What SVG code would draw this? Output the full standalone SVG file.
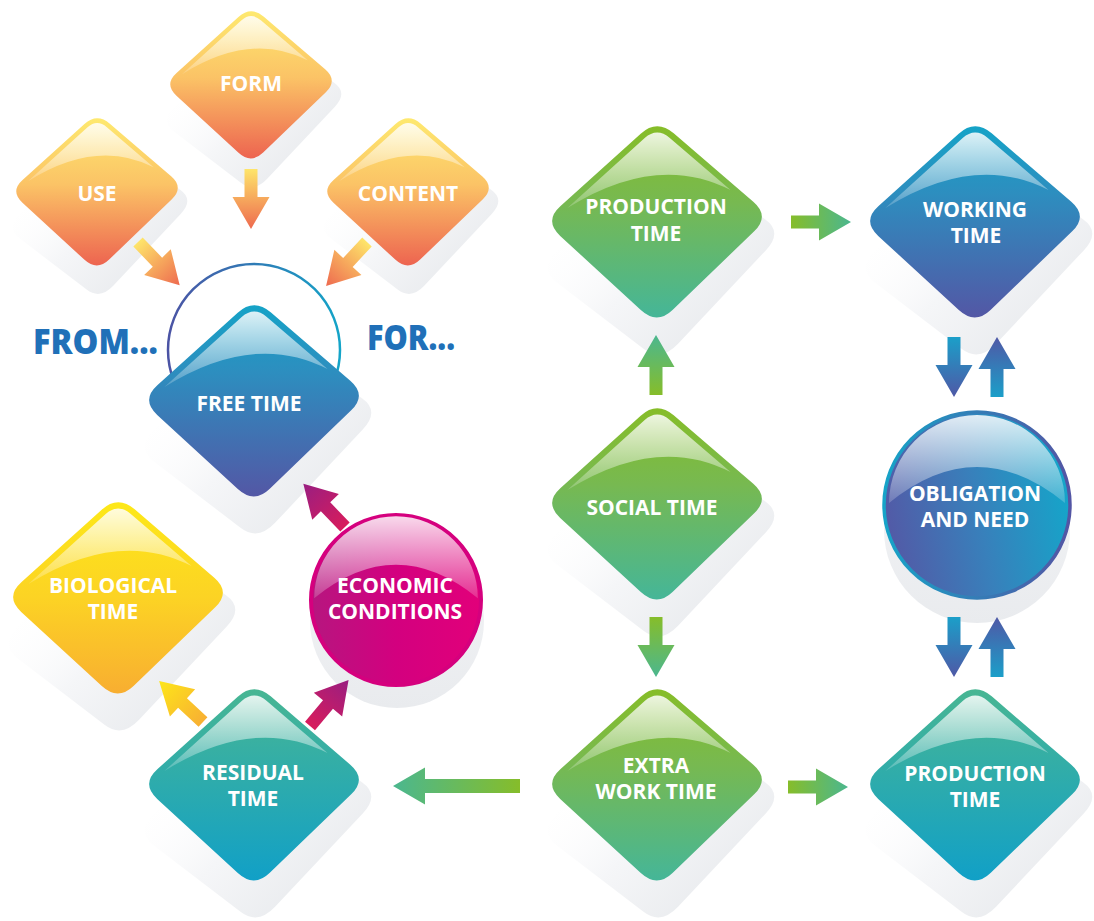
<svg xmlns="http://www.w3.org/2000/svg" xmlns:xlink="http://www.w3.org/1999/xlink" width="1094" height="921" viewBox="0 0 1094 921">
  <style>
    .lbl { font-family: "Open Sans", "Liberation Sans", sans-serif; font-weight: 700; font-size: 21px; fill: #ffffff; text-anchor: middle; }
    .big { font-family: "Open Sans", "Liberation Sans", sans-serif; font-weight: 800; font-size: 36px; fill: #2070b8; }
    .gloss { fill: url(#gloss); }
    .shade { fill: url(#shade); }
    .cshade { fill: url(#cshade); }
  </style>
  <defs>
    <!-- rounded rhombus, centred on 0,0 -->
    <path id="dia" d="M 16.7,-88.7 L 96.3,-20.3 Q 113,-6 97.2,9.3 L 15.8,87.7 Q 0,103 -16.2,88.1 L -96.8,13.9 Q -113,-1 -96.7,-15.7 L -16.3,-88.3 Q 0,-103 16.7,-88.7 Z"/>
    <!-- glossy cap on the upper part of the rhombus -->
    <path id="diaGloss" d="M -89.6,-14 Q 0,-70 73.5,-32 L 12.8,-84.1 Q 0,-95 -12.3,-84 Z"/>
    <!-- glossy cap for the round nodes (r = 88 inner) -->
    <path id="discGloss" d="M -88,-2 A 88 88 0 0 1 88,-2 Q 0,-74 -88,-2 Z"/>
    <!-- block arrows pointing along +x, tail at 0,0 -->
    <path id="arr" d="M0,-6.5 H28 V-18.5 L60,0 L28,18.5 V6.5 H0 Z"/>
    <path id="arrLong" d="M0,-7 H95 V-18.5 L127,0 L95,18.5 V7 H0 Z"/>

    <linearGradient id="gloss" x1="0" y1="0" x2="0" y2="1">
      <stop offset="0" stop-color="#ffffff" stop-opacity="0.85"/>
      <stop offset="1" stop-color="#ffffff" stop-opacity="0.18"/>
    </linearGradient>
    <linearGradient id="shade" x1="0.15" y1="0.2" x2="0.8" y2="0.9">
      <stop offset="0" stop-color="#ffffff" stop-opacity="0"/>
      <stop offset="0.5" stop-color="#f5f6f8"/>
      <stop offset="1" stop-color="#e9ebee"/>
    </linearGradient>
    <linearGradient id="cshade" x1="0" y1="0" x2="0" y2="1">
      <stop offset="0" stop-color="#f4f5f7"/>
      <stop offset="1" stop-color="#e9ebee"/>
    </linearGradient>

    <!-- node fills -->
    <linearGradient id="gOrange" x1="0" y1="0" x2="0" y2="1">
      <stop offset="0" stop-color="#fee96f"/>
      <stop offset="0.45" stop-color="#fbc366"/>
      <stop offset="1" stop-color="#ed6450"/>
    </linearGradient>
    <linearGradient id="gYellow" x1="0" y1="0" x2="0" y2="1">
      <stop offset="0" stop-color="#fde818"/>
      <stop offset="0.5" stop-color="#fcd324"/>
      <stop offset="1" stop-color="#f8ae31"/>
    </linearGradient>
    <linearGradient id="gTeal" x1="0" y1="0" x2="0" y2="1">
      <stop offset="0" stop-color="#48b693"/>
      <stop offset="1" stop-color="#11a0c7"/>
    </linearGradient>
    <linearGradient id="gBlue" x1="0" y1="0" x2="0" y2="1">
      <stop offset="0" stop-color="#15a3c7"/>
      <stop offset="0.35" stop-color="#2d8ebf"/>
      <stop offset="1" stop-color="#5357a5"/>
    </linearGradient>
    <linearGradient id="gGreen" x1="0" y1="0" x2="0" y2="1">
      <stop offset="0" stop-color="#86bd28"/>
      <stop offset="0.4" stop-color="#77b951"/>
      <stop offset="1" stop-color="#45b698"/>
    </linearGradient>
    <linearGradient id="gMagenta" x1="0" y1="0.5" x2="1" y2="0.5">
      <stop offset="0" stop-color="#b6167f"/>
      <stop offset="0.5" stop-color="#d3007f"/>
      <stop offset="1" stop-color="#e2007a"/>
    </linearGradient>
    <linearGradient id="gIndigo" x1="0" y1="0.6" x2="1" y2="0.4">
      <stop offset="0" stop-color="#5359a6"/>
      <stop offset="0.5" stop-color="#3880bb"/>
      <stop offset="1" stop-color="#14a6ca"/>
    </linearGradient>
    <linearGradient id="gIndigoRing" x1="0" y1="0.5" x2="1" y2="0.5">
      <stop offset="0" stop-color="#16a4c8"/>
      <stop offset="1" stop-color="#5355a4"/>
    </linearGradient>
    <linearGradient id="gRing" gradientUnits="userSpaceOnUse" x1="168" y1="0" x2="340" y2="0">
      <stop offset="0" stop-color="#4b53a4"/>
      <stop offset="1" stop-color="#14a4c8"/>
    </linearGradient>

    <!-- arrow fills, tail to tip -->
    <linearGradient id="aOrange" x1="0" y1="0" x2="1" y2="0">
      <stop offset="0" stop-color="#fee56a"/>
      <stop offset="1" stop-color="#ee6a4f"/>
    </linearGradient>
    <linearGradient id="aGreen" x1="0" y1="0" x2="1" y2="0">
      <stop offset="0" stop-color="#86bd2a"/>
      <stop offset="1" stop-color="#4bb78f"/>
    </linearGradient>
    <linearGradient id="aBlue" x1="0" y1="0" x2="1" y2="0">
      <stop offset="0" stop-color="#1b9fc9"/>
      <stop offset="1" stop-color="#4f58a6"/>
    </linearGradient>
    <linearGradient id="aYellow" x1="0" y1="0" x2="1" y2="0">
      <stop offset="0" stop-color="#f8b033"/>
      <stop offset="1" stop-color="#fde619"/>
    </linearGradient>
    <linearGradient id="aMagenta" x1="0" y1="0" x2="1" y2="0">
      <stop offset="0" stop-color="#d81c5c"/>
      <stop offset="1" stop-color="#991e81"/>
    </linearGradient>
  </defs>

  <rect width="1094" height="921" fill="#ffffff"/>

  <!-- soft drop shadows under every shape -->
  <g id="shadows">
    <use xlink:href="#dia" class="shade" transform="translate(251,85) scale(0.77) matrix(1.08,-0.14,0,1.05,4,32)"/>
    <use xlink:href="#dia" class="shade" transform="translate(97,192) scale(0.77) matrix(1.08,-0.14,0,1.05,4,32)"/>
    <use xlink:href="#dia" class="shade" transform="translate(408,192) scale(0.77) matrix(1.08,-0.14,0,1.05,4,32)"/>
    <use xlink:href="#dia" class="shade" transform="translate(254,401) matrix(1.08,-0.14,0,1.05,4,32)"/>
    <use xlink:href="#dia" class="shade" transform="translate(118,598) matrix(1.08,-0.14,0,1.05,4,32)"/>
    <use xlink:href="#dia" class="shade" transform="translate(254,785) matrix(1.08,-0.14,0,1.05,4,32)"/>
    <use xlink:href="#dia" class="shade" transform="translate(657,222) matrix(1.08,-0.14,0,1.05,4,32)"/>
    <use xlink:href="#dia" class="shade" transform="translate(975,222) matrix(1.08,-0.14,0,1.05,4,32)"/>
    <use xlink:href="#dia" class="shade" transform="translate(657,504) matrix(1.08,-0.14,0,1.05,4,32)"/>
    <use xlink:href="#dia" class="shade" transform="translate(657,785) matrix(1.08,-0.14,0,1.05,4,32)"/>
    <use xlink:href="#dia" class="shade" transform="translate(975,785) matrix(1.08,-0.14,0,1.05,4,32)"/>
    <circle class="cshade" cx="397" cy="621" r="87"/>
    <circle class="cshade" cx="977" cy="530" r="93"/>
  </g>

  <!-- ring around free time and the side captions -->
  <g id="free-time-frame">
    <circle cx="254" cy="350" r="86" fill="none" stroke="url(#gRing)" stroke-width="2.5"/>
    <text class="big" x="33" y="354" textLength="125" lengthAdjust="spacingAndGlyphs">FROM...</text>
    <text class="big" x="367" y="350" textLength="88" lengthAdjust="spacingAndGlyphs">FOR...</text>
  </g>

  <g id="connectors">
    <use xlink:href="#arr" fill="url(#aOrange)" transform="translate(251,169) rotate(90)"/>
    <use xlink:href="#arr" fill="url(#aOrange)" transform="translate(138,242) rotate(46)"/>
    <use xlink:href="#arr" fill="url(#aOrange)" transform="translate(367,242) rotate(133)"/>
    <use xlink:href="#arr" fill="url(#aGreen)" transform="translate(791,222)"/>
    <use xlink:href="#arr" fill="url(#aGreen)" transform="translate(656,395) rotate(-90)"/>
    <use xlink:href="#arr" fill="url(#aGreen)" transform="translate(656,617) rotate(90)"/>
    <use xlink:href="#arr" fill="url(#aGreen)" transform="translate(788,787)"/>
    <use xlink:href="#arrLong" fill="url(#aGreen)" transform="translate(520,786) rotate(180)"/>
    <use xlink:href="#arr" fill="url(#aBlue)" transform="translate(954,337) rotate(90)"/>
    <use xlink:href="#arr" fill="url(#aBlue)" transform="translate(997,397) rotate(-90)"/>
    <use xlink:href="#arr" fill="url(#aBlue)" transform="translate(954,617) rotate(90)"/>
    <use xlink:href="#arr" fill="url(#aBlue)" transform="translate(997,677) rotate(-90)"/>
    <use xlink:href="#arr" fill="url(#aYellow)" transform="translate(203,722) rotate(223)"/>
    <use xlink:href="#arr" fill="url(#aMagenta)" transform="translate(310,726) rotate(-50)"/>
    <use xlink:href="#arr" fill="url(#aMagenta)" transform="translate(345,527) rotate(226)"/>
  </g>

  <g id="node-form">
    <g transform="translate(251,85) scale(0.77)">
      <use xlink:href="#dia" fill="url(#gOrange)"/>
      <use xlink:href="#diaGloss" class="gloss"/>
    </g>
    <text class="lbl" x="251" y="91">FORM</text>
  </g>

  <g id="node-use">
    <g transform="translate(97,192) scale(0.77)">
      <use xlink:href="#dia" fill="url(#gOrange)"/>
      <use xlink:href="#diaGloss" class="gloss"/>
    </g>
    <text class="lbl" x="97" y="201">USE</text>
  </g>

  <g id="node-content">
    <g transform="translate(408,192) scale(0.77)">
      <use xlink:href="#dia" fill="url(#gOrange)"/>
      <use xlink:href="#diaGloss" class="gloss"/>
    </g>
    <text class="lbl" x="408" y="201">CONTENT</text>
  </g>

  <g id="node-free-time">
    <g transform="translate(254,401)">
      <use xlink:href="#dia" fill="url(#gBlue)"/>
      <use xlink:href="#diaGloss" class="gloss"/>
    </g>
    <text class="lbl" x="249" y="411">FREE TIME</text>
  </g>

  <g id="node-biological-time">
    <g transform="translate(118,598)">
      <use xlink:href="#dia" fill="url(#gYellow)"/>
      <use xlink:href="#diaGloss" class="gloss"/>
    </g>
    <text class="lbl"><tspan x="113" y="593">BIOLOGICAL</tspan><tspan x="113" y="619">TIME</tspan></text>
  </g>

  <g id="node-economic-conditions">
    <g transform="translate(396,600)">
      <circle r="85" fill="url(#gMagenta)" stroke="#d5007e" stroke-width="4"/>
      <use xlink:href="#discGloss" class="gloss" transform="scale(0.93)"/>
    </g>
    <text class="lbl"><tspan x="395" y="593">ECONOMIC</tspan><tspan x="395" y="619">CONDITIONS</tspan></text>
  </g>

  <g id="node-residual-time">
    <g transform="translate(254,785)">
      <use xlink:href="#dia" fill="url(#gTeal)"/>
      <use xlink:href="#diaGloss" class="gloss"/>
    </g>
    <text class="lbl"><tspan x="253" y="780">RESIDUAL</tspan><tspan x="253" y="806">TIME</tspan></text>
  </g>

  <g id="node-production-time-top">
    <g transform="translate(657,222)">
      <use xlink:href="#dia" fill="url(#gGreen)"/>
      <use xlink:href="#diaGloss" class="gloss"/>
    </g>
    <text class="lbl"><tspan x="656" y="214">PRODUCTION</tspan><tspan x="656" y="241">TIME</tspan></text>
  </g>

  <g id="node-working-time">
    <g transform="translate(975,222)">
      <use xlink:href="#dia" fill="url(#gBlue)"/>
      <use xlink:href="#diaGloss" class="gloss"/>
    </g>
    <text class="lbl"><tspan x="975" y="217">WORKING</tspan><tspan x="976" y="243">TIME</tspan></text>
  </g>

  <g id="node-social-time">
    <g transform="translate(657,504)">
      <use xlink:href="#dia" fill="url(#gGreen)"/>
      <use xlink:href="#diaGloss" class="gloss"/>
    </g>
    <text class="lbl" x="652" y="515">SOCIAL TIME</text>
  </g>

  <g id="node-obligation-and-need">
    <g transform="translate(977,505)">
      <circle r="93" fill="url(#gIndigo)" stroke="url(#gIndigoRing)" stroke-width="3.5"/>
      <use xlink:href="#discGloss" class="gloss"/>
    </g>
    <text class="lbl"><tspan x="975" y="501">OBLIGATION</tspan><tspan x="975" y="527">AND NEED</tspan></text>
  </g>

  <g id="node-extra-work-time">
    <g transform="translate(657,785)">
      <use xlink:href="#dia" fill="url(#gGreen)"/>
      <use xlink:href="#diaGloss" class="gloss"/>
    </g>
    <text class="lbl"><tspan x="656" y="773">EXTRA</tspan><tspan x="656" y="799">WORK TIME</tspan></text>
  </g>

  <g id="node-production-time-bottom">
    <g transform="translate(975,785)">
      <use xlink:href="#dia" fill="url(#gTeal)"/>
      <use xlink:href="#diaGloss" class="gloss"/>
    </g>
    <text class="lbl"><tspan x="975" y="781">PRODUCTION</tspan><tspan x="975" y="807">TIME</tspan></text>
  </g>
</svg>
